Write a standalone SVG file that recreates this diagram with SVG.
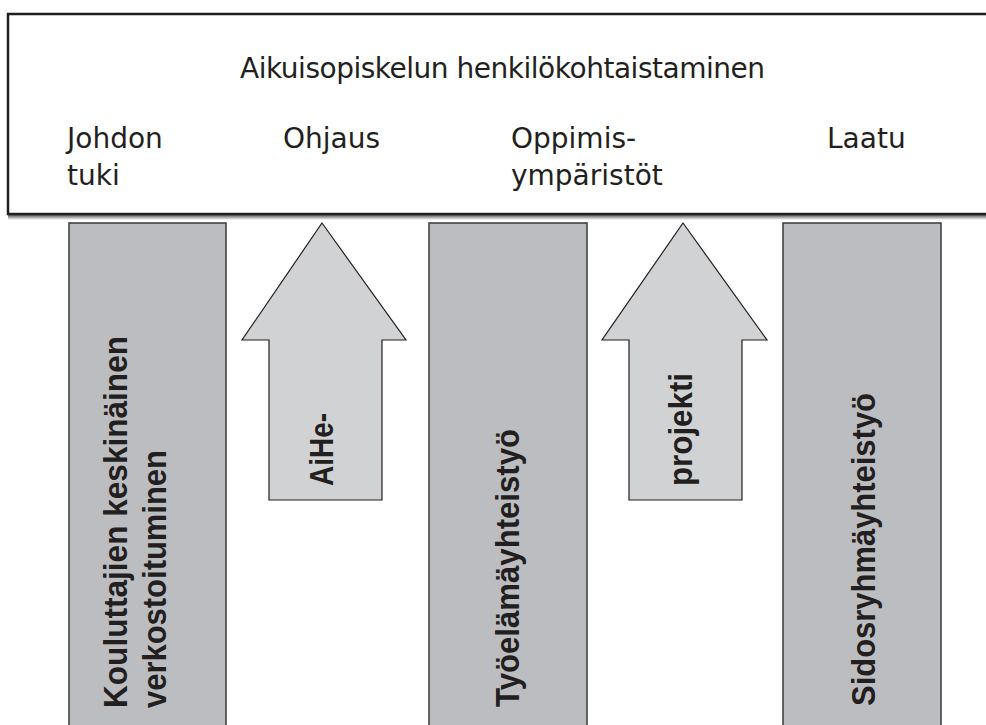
<svg xmlns="http://www.w3.org/2000/svg" width="986" height="725" viewBox="0 0 986 725">
  <defs>
    <linearGradient id="shadow" x1="0" y1="0" x2="0" y2="1">
      <stop offset="0" stop-color="#3a3a3a"/>
      <stop offset="1" stop-color="#ffffff"/>
    </linearGradient>
    <style>
      .box { fill: #ffffff; stroke: #231f20; stroke-width: 2.5; }
      .bar { fill: #bcbdc0; stroke: #3a3a3a; stroke-width: 1.5; }
      .arrow { fill: #d1d2d4; stroke: #231f20; stroke-width: 1.2; stroke-linejoin: miter; }
      .lt { font-family: "DejaVu Sans", "Liberation Sans", sans-serif; font-size: 28px; fill: #231f20; }
      .bt { font-family: "Liberation Sans", Arial, sans-serif; font-weight: bold; font-size: 33px; fill: #231f20; }
    </style>
  </defs>
  <rect width="986" height="725" fill="#ffffff"/>

  <g id="header">
    <rect x="8" y="214" width="990" height="6" fill="url(#shadow)"/>
    <rect class="box" x="8" y="14" width="990" height="200"/>
    <text class="lt" x="240" y="78" textLength="525">Aikuisopiskelun henkilökohtaistaminen</text>
    <text class="lt" x="67" y="148">Johdon</text>
    <text class="lt" x="67" y="185">tuki</text>
    <text class="lt" x="283" y="148">Ohjaus</text>
    <text class="lt" x="511" y="148">Oppimis-</text>
    <text class="lt" x="511" y="185">ympäristöt</text>
    <text class="lt" x="827" y="148">Laatu</text>
  </g>

  <g id="bar-kouluttajat">
    <rect class="bar" x="69" y="223" width="157" height="510"/>
    <text class="bt" transform="translate(127,708) rotate(-90)" textLength="372" lengthAdjust="spacingAndGlyphs">Kouluttajien keskinäinen</text>
    <text class="bt" transform="translate(166,708) rotate(-90)" textLength="258" lengthAdjust="spacingAndGlyphs">verkostoituminen</text>
  </g>

  <g id="arrow-aihe">
    <polygon class="arrow" points="322,223 406,340 382,340 382,500 269,500 269,340 242,340"/>
    <text class="bt" transform="translate(333,486) rotate(-90)" textLength="73" lengthAdjust="spacingAndGlyphs">AiHe-</text>
  </g>

  <g id="bar-tyoelama">
    <rect class="bar" x="429" y="223" width="158" height="510"/>
    <text class="bt" transform="translate(519,707) rotate(-90)" textLength="278" lengthAdjust="spacingAndGlyphs">Työelämäyhteistyö</text>
  </g>

  <g id="arrow-projekti">
    <polygon class="arrow" points="683,223 767,340 742,340 742,500 629,500 629,340 602,340"/>
    <text class="bt" transform="translate(692,486) rotate(-90)" textLength="113" lengthAdjust="spacingAndGlyphs">projekti</text>
  </g>

  <g id="bar-sidosryhma">
    <rect class="bar" x="783" y="223" width="158" height="510"/>
    <text class="bt" transform="translate(875,706) rotate(-90)" textLength="313" lengthAdjust="spacingAndGlyphs">Sidosryhmäyhteistyö</text>
  </g>

  <g id="connectors"></g>
</svg>
